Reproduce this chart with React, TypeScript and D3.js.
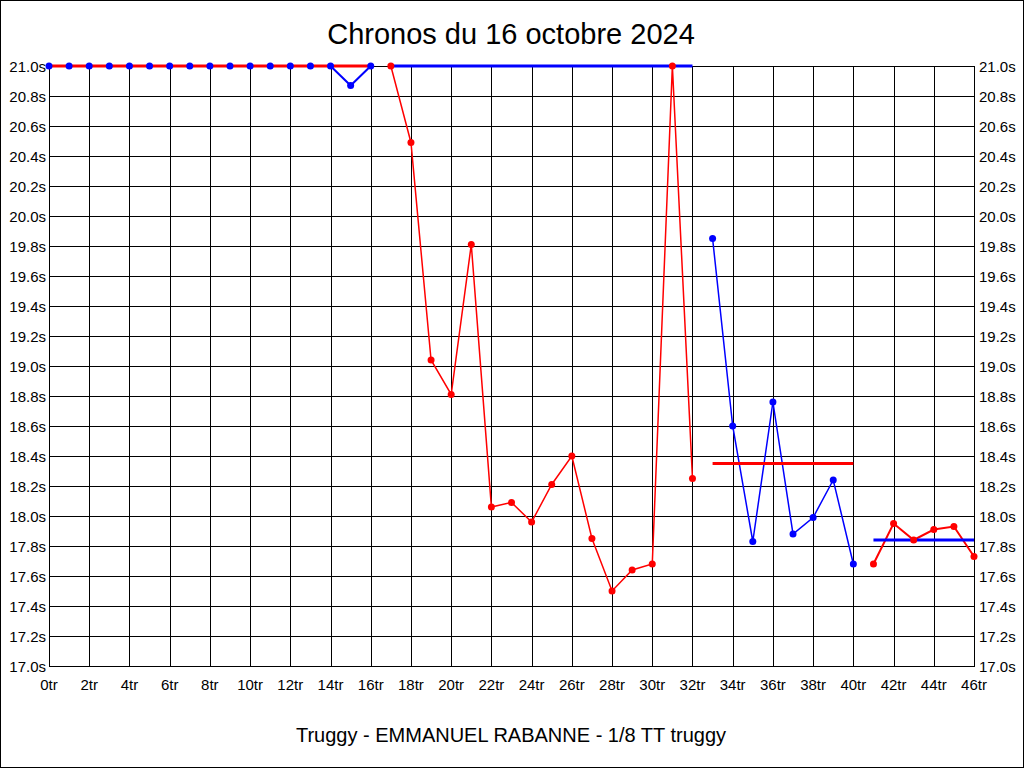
import React from 'react';
import * as d3 from 'd3';

const TITLE = 'Chronos du 16 octobre 2024';
const SUBTITLE = 'Truggy - EMMANUEL RABANNE - 1/8 TT truggy';

const xTickLaps = [0, 2, 4, 6, 8, 10, 12, 14, 16, 18, 20, 22, 24, 26, 28, 30, 32, 34, 36, 38, 40, 42, 44, 46];
const yTickValues = [17.0, 17.2, 17.4, 17.6, 17.8, 18.0, 18.2, 18.4, 18.6, 18.8, 19.0, 19.2, 19.4, 19.6, 19.8, 20.0, 20.2, 20.4, 20.6, 20.8, 21.0];

// Session 1 (blue)
const blue1Laps = [0, 1, 2, 3, 4, 5, 6, 7, 8, 9, 10, 11, 12, 13, 14, 15, 16];
const blue1Times = [21.0, 21.0, 21.0, 21.0, 21.0, 21.0, 21.0, 21.0, 21.0, 21.0, 21.0, 21.0, 21.0, 21.0, 21.0, 20.87, 21.0];
// Session 2 (red)
const red1Laps = [17, 18, 19, 20, 21, 22, 23, 24, 25, 26, 27, 28, 29, 30, 31, 32];
const red1Times = [21.0, 20.49, 19.04, 18.81, 19.81, 18.06, 18.09, 17.96, 18.21, 18.40, 17.85, 17.50, 17.64, 17.68, 21.0, 18.25];
// Session 3 (blue)
const blue2Laps = [33, 34, 35, 36, 37, 38, 39, 40];
const blue2Times = [19.85, 18.60, 17.83, 18.76, 17.88, 17.99, 18.24, 17.68];
// Session 4 (red)
const red2Laps = [41, 42, 43, 44, 45, 46];
const red2Times = [17.68, 17.95, 17.84, 17.91, 17.93, 17.73];

// Average reference lines: [startLap, endLap, value, colour]
const avgStart = [0, 17, 33, 41];
const avgEnd = [16, 32, 40, 46];
const avgValue = [21.0, 21.0, 18.35, 17.84];
const avgColor = ['#ff0000', '#0000ff', '#ff0000', '#0000ff'];

const W = 1024;
const H = 768;
const FONT = '"Liberation Sans", Arial, sans-serif';

export default function App() {
  const x = d3.scaleLinear().domain([0, 46]).range([49, 974]);
  const y = d3.scaleLinear().domain([17, 21]).range([666, 66]);
  const line = d3
    .line<[number, number]>()
    .x((d) => x(d[0]))
    .y((d) => y(d[1]));

  const series = [
    { laps: blue1Laps, times: blue1Times, color: '#0000ff', width: 2 },
    { laps: red1Laps, times: red1Times, color: '#ff0000', width: 1.5 },
    { laps: blue2Laps, times: blue2Times, color: '#0000ff', width: 1.5 },
    { laps: red2Laps, times: red2Times, color: '#ff0000', width: 2 },
  ];

  const markerOrder = [1, 3, 0, 2];

  return (
    <div style={{ position: 'absolute', left: 0, top: 0 }}>
      <svg width={W} height={H} style={{ display: 'block', background: '#fff' }}>
        <rect x={0.5} y={0.5} width={W - 1} height={H - 1} fill="#fff" stroke="#000" strokeWidth={1} />
        <text x={511} y={44} textAnchor="middle" fontFamily={FONT} fontSize={29} fill="#000">
          {TITLE}
        </text>
        {/* grid */}
        <g shapeRendering="crispEdges" stroke="#000" strokeWidth={1}>
          {xTickLaps.map((l) => (
            <line key={'vx' + l} x1={Math.round(x(l)) + 0.5} x2={Math.round(x(l)) + 0.5} y1={66} y2={667} />
          ))}
          {yTickValues.map((v) => (
            <line key={'hy' + v} x1={49} x2={975} y1={Math.round(y(v)) + 0.5} y2={Math.round(y(v)) + 0.5} />
          ))}
        </g>
        {/* y labels */}
        <g fontFamily={FONT} fontSize={15} fill="#000">
          {yTickValues.map((v) => (
            <text key={'yl' + v} x={46} y={y(v) + 5.5} textAnchor="end">
              {v.toFixed(1) + 's'}
            </text>
          ))}
          {yTickValues.map((v) => (
            <text key={'yr' + v} x={979} y={y(v) + 5.5} textAnchor="start">
              {v.toFixed(1) + 's'}
            </text>
          ))}
          {xTickLaps.map((l) => (
            <text key={'xl' + l} x={x(l)} y={690} textAnchor="middle">
              {l + 'tr'}
            </text>
          ))}
        </g>
        {/* data lines */}
        {series.map((s, i) => (
          <path
            key={'ln' + i}
            d={line(s.laps.map((l, j) => [l, s.times[j]] as [number, number])) || ''}
            fill="none"
            stroke={s.color}
            strokeWidth={s.width}
          />
        ))}
        {/* average lines */}
        {avgStart.map((a, i) => (
          <line
            key={'avg' + i}
            x1={x(a)}
            x2={x(avgEnd[i])}
            y1={y(avgValue[i])}
            y2={y(avgValue[i])}
            stroke={avgColor[i]}
            strokeWidth={3}
          />
        ))}
        {/* markers */}
        {markerOrder.map((idx) => {
          const s = series[idx];
          return (
            <g key={'mk' + idx} fill={s.color}>
              {s.laps.map((l, j) => (
                <circle key={j} cx={x(l)} cy={y(s.times[j])} r={3.5} />
              ))}
            </g>
          );
        })}
        <text x={511} y={742} textAnchor="middle" fontFamily={FONT} fontSize={20} fill="#000">
          {SUBTITLE}
        </text>
      </svg>
    </div>
  );
}
